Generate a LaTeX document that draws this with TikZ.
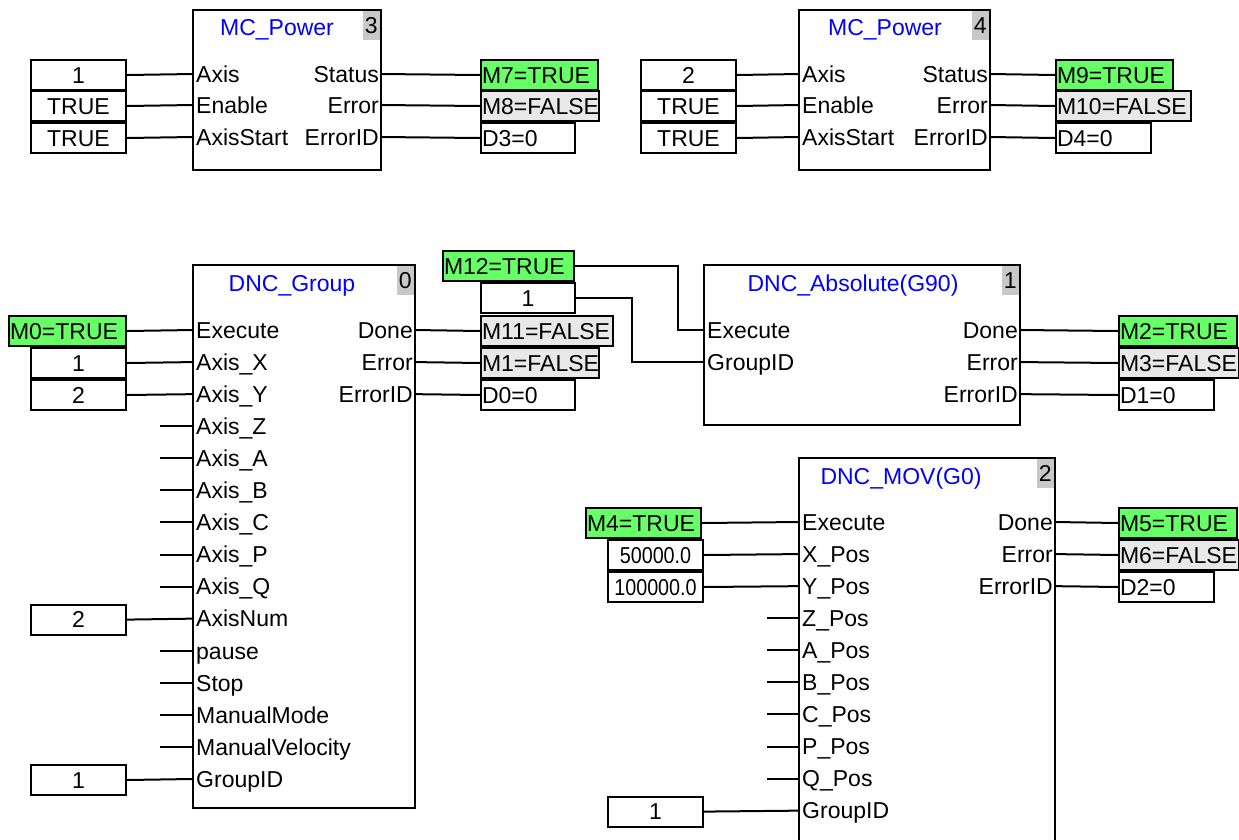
\documentclass[tikz,border=0pt]{standalone}
\usepackage{fontspec}
\usepackage{graphicx}
\setmainfont{Liberation Sans}
\definecolor{plcgreen}{RGB}{102,255,102}
\definecolor{falsegray}{RGB}{232,232,232}
\definecolor{idxgray}{RGB}{200,200,200}
\definecolor{plcblue}{RGB}{0,0,255}
\newcommand\narrowtxt[1]{\scalebox{0.86}[1]{#1}}
\begin{document}
\begin{tikzpicture}[x=1pt,y=-1pt,
  font=\fontsize{23}{26}\selectfont,
  wire/.style={line width=2pt},
  blk/.style={draw, line width=2pt, anchor=north west, outer sep=0pt, inner sep=0pt, fill=white},
  ttl/.style={text=plcblue, anchor=base, inner sep=0pt, yshift=-8.3pt},
  idx/.style={fill=idxgray, anchor=north east, minimum width=17pt, minimum height=29pt, inner sep=0pt},
  vb/.style={draw, line width=2pt, anchor=north west, inner xsep=1pt, inner ysep=0pt, minimum height=30pt, text height=16.5pt, text depth=0pt},
  cin/.style={vb, align=center, text width=#1},
  lout/.style={vb, align=left, text width=#1},
  gr/.style={fill=plcgreen}, fl/.style={fill=falsegray},
  pl/.style={anchor=base west, inner sep=0pt, yshift=-8.3pt},
  pr/.style={anchor=base east, inner sep=0pt, yshift=-8.3pt}]
\path[use as bounding box] (0,0) rectangle (1239,839);
\clip (0,0) rectangle (1239,839);

% ================= MC_Power 3 =================
\node[blk, minimum width=188pt, minimum height=160pt] (b3) at (193,10) {};
\node[idx] (b3i) at ([shift={(-1,1)}]b3.north east) {3};
\node[ttl] (b3t) at (277,27) {MC\_Power};
\foreach \y [count=\i] in {74,105,137} {
  \coordinate (b3l\i) at (193,\y);
  \coordinate (b3r\i) at (381,\y);
}
\node[pl] (b3p1) at ([xshift=3pt]b3l1) {Axis};
\node[pl] (b3p2) at ([xshift=3pt]b3l2) {Enable};
\node[pl] (b3p3) at ([xshift=3pt]b3l3) {AxisStart};
\node[pr] (b3q1) at ([xshift=-2pt]b3r1) {Status};
\node[pr] (b3q2) at ([xshift=-2pt]b3r2) {Error};
\node[pr] (b3q3) at ([xshift=-2pt]b3r3) {ErrorID};
\node[cin=93pt] (c31) at (30,59) {1};
\node[cin=93pt] (c32) at (30,90) {TRUE};
\node[cin=93pt] (c33) at (30,122) {TRUE};
\node[lout=115pt, gr] (o31) at (480,59) {M7=TRUE};
\node[lout=116pt, fl] (o32) at (480,90) {M8=FALSE};
\node[lout=92pt] (o33) at (480,122) {D3=0};
\foreach \i in {1,2,3} {
  \draw[wire] (c3\i.east) -- (b3l\i);
  \draw[wire] (b3r\i) -- (o3\i.west);
}

% ================= MC_Power 4 =================
\node[blk, minimum width=191pt, minimum height=160pt] (b4) at (799,10) {};
\node[idx] (b4i) at ([shift={(-1,1)}]b4.north east) {4};
\node[ttl] (b4t) at (885,27) {MC\_Power};
\foreach \y [count=\i] in {74,105,137} {
  \coordinate (b4l\i) at (799,\y);
  \coordinate (b4r\i) at (990,\y);
}
\node[pl] (b4p1) at ([xshift=3pt]b4l1) {Axis};
\node[pl] (b4p2) at ([xshift=3pt]b4l2) {Enable};
\node[pl] (b4p3) at ([xshift=3pt]b4l3) {AxisStart};
\node[pr] (b4q1) at ([xshift=-2pt]b4r1) {Status};
\node[pr] (b4q2) at ([xshift=-2pt]b4r2) {Error};
\node[pr] (b4q3) at ([xshift=-2pt]b4r3) {ErrorID};
\node[cin=93pt] (c41) at (640,59) {2};
\node[cin=93pt] (c42) at (640,90) {TRUE};
\node[cin=93pt] (c43) at (640,122) {TRUE};
\node[lout=115pt, gr] (o41) at (1055,59) {M9=TRUE};
\node[lout=133pt, fl] (o42) at (1055,90) {M10=FALSE};
\node[lout=93pt] (o43) at (1055,122) {D4=0};
\foreach \i in {1,2,3} {
  \draw[wire] (c4\i.east) -- (b4l\i);
  \draw[wire] (b4r\i) -- (o4\i.west);
}

% ================= DNC_Group 0 =================
\node[blk, minimum width=222pt, minimum height=543pt] (g0) at (193,265) {};
\node[idx] (g0i) at ([shift={(-1,1)}]g0.north east) {0};
\node[ttl] (g0t) at (292,283) {DNC\_Group};
\foreach \t [count=\i from 0] in {Execute,Axis\_X,Axis\_Y,Axis\_Z,Axis\_A,Axis\_B,Axis\_C,Axis\_P,Axis\_Q,AxisNum,pause,Stop,ManualMode,ManualVelocity,GroupID} {
  \coordinate (gl\i) at (193,{330+32.07*\i});
  \node[pl] (gp\i) at ([xshift=3pt]gl\i) {\t};
}
\foreach \t [count=\i from 0] in {Done,Error,ErrorID} {
  \coordinate (gr\i) at (415,{330+32.07*\i});
  \node[pr] (gq\i) at ([xshift=-2pt]gr\i) {\t};
}
\node[lout=115pt, gr] (gi0) at (8,315) {M0=TRUE};
\node[cin=93pt] (gi1) at (30,347) {1};
\node[cin=93pt] (gi2) at (30,379) {2};
\node[cin=93pt] (gi9) at (30,603.6) {2};
\node[cin=93pt] (gi14) at (30,764) {1};
\foreach \i in {0,1,2,9,14} { \draw[wire] (gi\i.east) -- (gl\i); }
\foreach \i in {3,4,5,6,7,8,10,11,12,13} { \draw[wire] (gl\i) -- ++(-33,0); }
\node[lout=130pt, fl] (go0) at (480,315) {M11=FALSE};
\node[lout=116pt, fl] (go1) at (480,347) {M1=FALSE};
\node[lout=92pt] (go2) at (480,379) {D0=0};
\foreach \i in {0,1,2} { \draw[wire] (gr\i) -- (go\i.west); }

% ================= DNC_Absolute(G90) 1 =================
\node[blk, minimum width=316pt, minimum height=160pt] (a1) at (704,265) {};
\node[idx] (a1i) at ([shift={(-1,1)}]a1.north east) {1};
\node[ttl] (a1t) at (853,283) {DNC\_Absolute(G90)};
\coordinate (al0) at (704,330);
\coordinate (al1) at (704,362);
\node[pl] (ap0) at ([xshift=3pt]al0) {Execute};
\node[pl] (ap1) at ([xshift=3pt]al1) {GroupID};
\foreach \t [count=\i from 0] in {Done,Error,ErrorID} {
  \coordinate (ar\i) at (1020,{330+32.07*\i});
  \node[pr] (aq\i) at ([xshift=-2pt]ar\i) {\t};
}
\node[lout=129pt, gr] (m12) at (442,250) {M12=TRUE};
\node[cin=92pt] (ai1) at (480,282) {1};
\coordinate (k1) at (678,265);
\coordinate (k2) at (632,297);
\draw[wire] (m12.east) -- (m12.east -| k1) -- (k1 |- al0) -- (al0);
\draw[wire] (ai1.east) -- (ai1.east -| k2) -- (k2 |- al1) -- (al1);
\node[lout=116pt, gr] (ao0) at (1118,315) {M2=TRUE};
\node[lout=118pt, fl] (ao1) at (1118,347) {M3=FALSE};
\node[lout=93pt] (ao2) at (1118,379) {D1=0};
\foreach \i in {0,1,2} { \draw[wire] (ar\i) -- (ao\i.west); }

% ================= DNC_MOV(G0) 2 =================
\node[blk, minimum width=256pt, minimum height=420pt] (m2) at (799,458) {};
\node[idx] (m2i) at ([shift={(-1,1)}]m2.north east) {2};
\node[ttl] (m2t) at (901,476) {DNC\_MOV(G0)};
\foreach \t [count=\i from 0] in {Execute,X\_Pos,Y\_Pos,Z\_Pos,A\_Pos,B\_Pos,C\_Pos,P\_Pos,Q\_Pos,GroupID} {
  \coordinate (ml\i) at (799,{522+32.07*\i});
  \node[pl] (mp\i) at ([xshift=3pt]ml\i) {\t};
}
\foreach \t [count=\i from 0] in {Done,Error,ErrorID} {
  \coordinate (mr\i) at (1055,{522+32.07*\i});
  \node[pr] (mq\i) at ([xshift=-2pt]mr\i) {\t};
}
\node[lout=113pt, gr] (mi0) at (585,507) {M4=TRUE};
\node[cin=93pt] (mi1) at (607,539) {\narrowtxt{50000.0}};
\node[cin=93pt] (mi2) at (607,571) {\narrowtxt{100000.0}};
\node[cin=93pt] (mi9) at (607,795.6) {1};
\foreach \i in {0,1,2,9} { \draw[wire] (mi\i.east) -- (ml\i); }
\foreach \i in {3,4,5,6,7,8} { \draw[wire] (ml\i) -- ++(-32,0); }
\node[lout=116pt, gr] (mo0) at (1118,507) {M5=TRUE};
\node[lout=118pt, fl] (mo1) at (1118,539) {M6=FALSE};
\node[lout=93pt] (mo2) at (1118,571) {D2=0};
\foreach \i in {0,1,2} { \draw[wire] (mr\i) -- (mo\i.west); }
\end{tikzpicture}
\end{document}
